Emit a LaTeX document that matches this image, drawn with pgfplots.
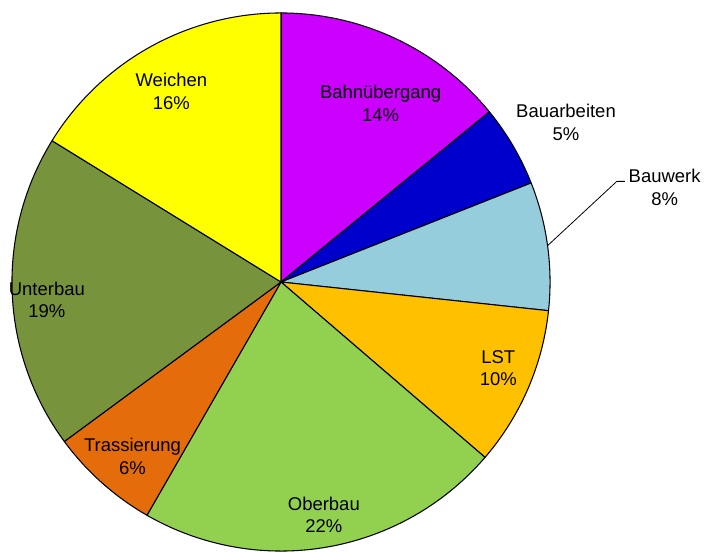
\documentclass[border=0pt]{standalone}
\usepackage{pgfplots}
\pgfplotsset{compat=1.18}
\usepackage{fontspec}
\setmainfont{Liberation Sans}
\definecolor{cBahn}{HTML}{CC00FF}
\definecolor{cBauarb}{HTML}{0000CC}
\definecolor{cBauwerk}{HTML}{96CDDC}
\definecolor{cLST}{HTML}{FFC000}
\definecolor{cOber}{HTML}{92D050}
\definecolor{cTrass}{HTML}{E46C0A}
\definecolor{cUnter}{HTML}{77933C}
\definecolor{cWeich}{HTML}{FFFF00}
% shares in percent (clockwise from 12 o'clock)
\def\vA{14.1}% Bahnuebergang
\def\vB{4.9}%  Bauarbeiten
\def\vC{7.7}%  Bauwerk
\def\vD{9.6}%  LST
\def\vE{22.0}% Oberbau
\def\vF{6.6}%  Trassierung
\def\vG{18.9}% Unterbau
\def\vH{16.2}% Weichen
\newcommand{\slice}[3]{%
 \addplot[draw=black, line width=0.8pt, line join=round, fill=#1,
   domain={90-3.6*(#2+#3)}:{90-3.6*(#2)}, samples=90, variable=\t]
   ({282+270*cos(\t)},{266+270*sin(\t)}) -- (axis cs:282,266) -- cycle;
}
\newcommand{\lbl}{\fontsize{13.9}{17}\selectfont}
\begin{document}
\begin{tikzpicture}
\begin{axis}[x=0.75pt, y=0.75pt, xmin=0, xmax=705, ymin=0, ymax=549,
  hide axis, clip=false, axis line style={draw=none}]
\slice{cBahn}{0}{\vA}
\slice{cBauarb}{\vA}{\vB}
\slice{cBauwerk}{\vA+\vB}{\vC}
\slice{cLST}{\vA+\vB+\vC}{\vD}
\slice{cOber}{\vA+\vB+\vC+\vD}{\vE}
\slice{cTrass}{\vA+\vB+\vC+\vD+\vE}{\vF}
\slice{cUnter}{\vA+\vB+\vC+\vD+\vE+\vF}{\vG}
\slice{cWeich}{\vA+\vB+\vC+\vD+\vE+\vF+\vG}{\vH}
\addplot[black, line width=0.6pt, no marks] coordinates {(549,302) (619,367) (627,367)};
\node[align=center, font=\lbl] at (axis cs:172,457.5) {Weichen\\16\%};
\node[align=center, font=\lbl] at (axis cs:382,445) {Bahnübergang\\14\%};
\node[align=center, font=\lbl] at (axis cs:568,426) {Bauarbeiten\\5\%};
\node[align=center, font=\lbl] at (axis cs:667,361) {Bauwerk\\8\%};
\node[align=center, font=\lbl] at (axis cs:500,179.5) {LST\\10\%};
\node[align=center, font=\lbl] at (axis cs:325,32.5) {Oberbau\\22\%};
\node[align=center, font=\lbl] at (axis cs:133,91) {Trassierung\\6\%};
\node[align=center, font=\lbl] at (axis cs:47,248) {Unterbau\\19\%};
\path (axis cs:0,0) rectangle (axis cs:705,549);
\end{axis}
\end{tikzpicture}
\end{document}
